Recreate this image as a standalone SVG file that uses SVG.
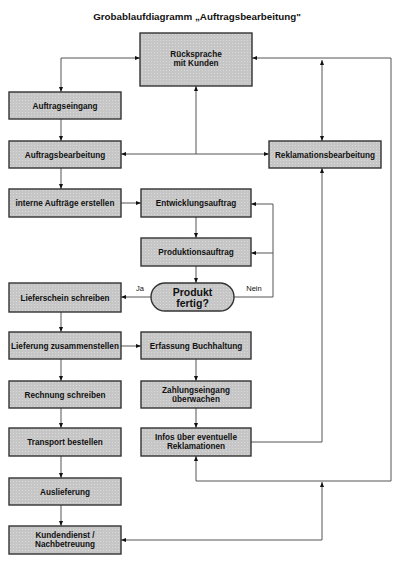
<svg xmlns="http://www.w3.org/2000/svg" width="400" height="566" viewBox="0 0 400 566">
<style>
.box{fill:url(#dots);stroke:#333;stroke-width:1.4}
.t{font-family:"Liberation Sans",Arial,sans-serif;font-weight:bold;font-size:8.2px;fill:#111;text-anchor:middle}
.l{font-family:"Liberation Sans",Arial,sans-serif;font-size:7.5px;fill:#111;text-anchor:middle}
.c{fill:none;stroke:#555;stroke-width:1}
.a{marker-end:url(#ah)}
.s{marker-start:url(#ah)}
</style>
<defs>
<pattern id="dots" width="3" height="3" patternUnits="userSpaceOnUse">
<rect width="3" height="3" fill="#c6c6c6"/>
<rect x="1" y="1" width="1" height="1" fill="#dadada"/>
</pattern>
<marker id="ah" viewBox="0 0 10 10" refX="10" refY="5" markerWidth="5" markerHeight="5" orient="auto-start-reverse" markerUnits="userSpaceOnUse">
<path d="M0,1 L10,5 L0,9 Z" fill="#111"/>
</marker>
</defs>
<rect width="400" height="566" fill="#fff"/>
<text x="197" y="20" class="t" style="font-size:9.8px">Grobablaufdiagramm „Auftragsbearbeitung"</text>

<g id="connectors">
<path class="c a s" d="M140,58 H61 V92"/>
<path class="c a" d="M61,119 V141"/>
<path class="c a" d="M196,154 V86"/>
<path class="c a s" d="M121,154 H269"/>
<path class="c a s" d="M322,60 V141"/>
<path class="c a" d="M391,481 V58 H252"/>
<path class="c a" d="M391,481 H196 V456"/>
<path class="c a s" d="M121,540 H322 V482"/>
<path class="c a" d="M61,168 V189"/>
<path class="c a" d="M121,203 H141"/>
<path class="c a" d="M196,217 V238"/>
<path class="c a" d="M196,266 V283"/>
<path class="c a" d="M151,297 H121"/>
<path class="c a" d="M234,297 H273 V204 H251"/>
<path class="c a" d="M273,253 H251"/>
<path class="c a" d="M61,312 V332"/>
<path class="c a" d="M121,346 H141"/>
<path class="c a" d="M196,359 V381"/>
<path class="c a" d="M196,408 V428"/>
<path class="c a" d="M251,442 H322 V168"/>
<path class="c a" d="M61,359 V381"/>
<path class="c a" d="M61,408 V428"/>
<path class="c a" d="M61,456 V478"/>
<path class="c a" d="M61,505 V526"/>
</g>

<g id="ruecksprache"><rect class="box" x="140" y="33" width="112" height="53"/><text class="t" x="196" y="57">Rücksprache</text><text class="t" x="196" y="66">mit Kunden</text></g>
<g id="auftragseingang"><rect class="box" x="9" y="92" width="112" height="27"/><text class="t" x="65" y="108.5">Auftragseingang</text></g>
<g id="auftragsbearbeitung"><rect class="box" x="9" y="141" width="112" height="27"/><text class="t" x="65" y="157.5">Auftragsbearbeitung</text></g>
<g id="reklamationsbearbeitung"><rect class="box" x="269" y="141" width="112" height="27"/><text class="t" x="325" y="157.5">Reklamationsbearbeitung</text></g>
<g id="interne"><rect class="box" x="9" y="189" width="112" height="28"/><text class="t" x="65" y="206">interne Aufträge erstellen</text></g>
<g id="entwicklung"><rect class="box" x="141" y="189" width="110" height="28"/><text class="t" x="196" y="206">Entwicklungsauftrag</text></g>
<g id="produktion"><rect class="box" x="141" y="238" width="110" height="28"/><text class="t" x="196" y="255">Produktionsauftrag</text></g>
<g id="fertig"><rect class="box" x="151" y="283" width="83" height="28" rx="14" ry="14"/><text class="t" x="192.5" y="295.5" style="font-size:10.5px">Produkt</text><text class="t" x="192.5" y="306.5" style="font-size:10.5px">fertig?</text></g>
<text class="l" x="140" y="291">Ja</text>
<text class="l" x="254" y="291">Nein</text>
<g id="lieferschein"><rect class="box" x="9" y="283" width="112" height="29"/><text class="t" x="65" y="300.5">Lieferschein schreiben</text></g>
<g id="lieferung"><rect class="box" x="9" y="332" width="112" height="27"/><text class="t" x="65" y="348.5">Lieferung zusammenstellen</text></g>
<g id="erfassung"><rect class="box" x="141" y="332" width="110" height="27"/><text class="t" x="196" y="348.5">Erfassung Buchhaltung</text></g>
<g id="rechnung"><rect class="box" x="9" y="381" width="112" height="27"/><text class="t" x="65" y="397.5">Rechnung schreiben</text></g>
<g id="zahlung"><rect class="box" x="141" y="381" width="110" height="27"/><text class="t" x="196" y="392.5">Zahlungseingang</text><text class="t" x="196" y="401.5">überwachen</text></g>
<g id="transport"><rect class="box" x="9" y="428" width="112" height="28"/><text class="t" x="65" y="445">Transport bestellen</text></g>
<g id="infos"><rect class="box" x="141" y="428" width="110" height="28"/><text class="t" x="196" y="439.5">Infos über eventuelle</text><text class="t" x="196" y="449">Reklamationen</text></g>
<g id="auslieferung"><rect class="box" x="9" y="478" width="112" height="27"/><text class="t" x="65" y="494.5">Auslieferung</text></g>
<g id="kundendienst"><rect class="box" x="9" y="526" width="112" height="28"/><text class="t" x="65" y="537.5">Kundendienst /</text><text class="t" x="65" y="547">Nachbetreuung</text></g>
</svg>
